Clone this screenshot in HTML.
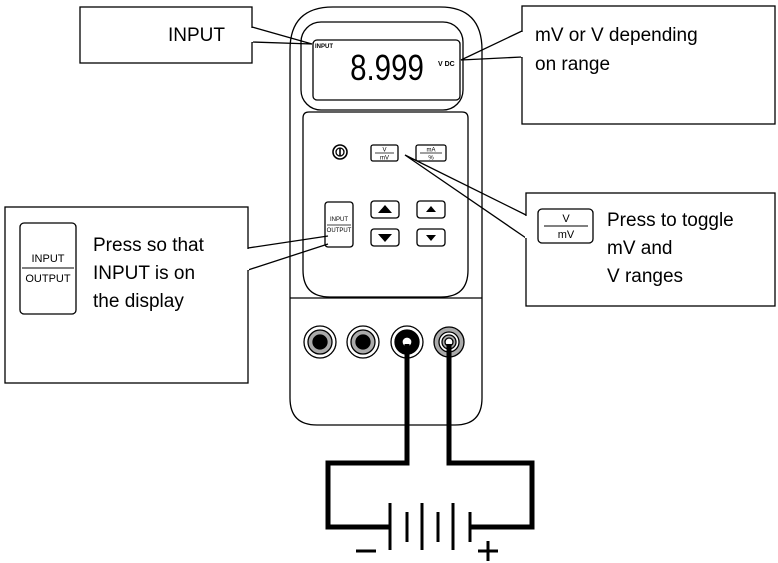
<!DOCTYPE html>
<html><head><meta charset="utf-8"><style>
html,body{margin:0;padding:0;background:#fff;}
svg{display:block;font-family:"Liberation Sans",Arial,sans-serif;}
</style></head><body>
<svg width="778" height="563" viewBox="0 0 778 563" xmlns="http://www.w3.org/2000/svg">
<g fill="none" stroke="#000" stroke-width="1.3">
<!-- meter outer -->
<path d="M290,398 L290,50 Q290,7 333,7 L440,7 Q482,7 482,50 L482,398 Q482,425 455,425 L317,425 Q290,425 290,398 Z" fill="#fff"/>
<!-- display bezel -->
<rect x="301" y="22" width="162" height="88" rx="20" fill="#fff"/>
<rect x="313" y="40" width="147" height="60" rx="4" fill="#fff"/>
<!-- keypad panel -->
<path d="M303,118 Q303,112 309,112 L462,112 Q468,112 468,118 L468,270 Q468,297 441,297 L330,297 Q303,297 303,270 Z" fill="#fff"/>
<line x1="290" y1="298" x2="482" y2="298"/>
<!-- buttons -->
<circle cx="340" cy="152" r="7" stroke-width="1.6"/>
<circle cx="340" cy="152" r="4" stroke-width="1.3"/>
<line x1="340" y1="148" x2="340" y2="156" stroke-width="1.6"/>
<rect x="371" y="145" width="27" height="16" rx="2"/>
<line x1="375" y1="153" x2="394" y2="153" stroke-width="0.8"/>
<rect x="416" y="145" width="30" height="16" rx="2"/>
<line x1="420" y1="153" x2="442" y2="153" stroke-width="0.8"/>
<rect x="325" y="202" width="28" height="45" rx="3"/>
<line x1="327" y1="225" x2="351" y2="225" stroke-width="0.8"/>
<rect x="371" y="201" width="28" height="17" rx="3"/>
<rect x="371" y="229" width="28" height="17" rx="3"/>
<rect x="417" y="201" width="28" height="17" rx="3"/>
<rect x="417" y="229" width="28" height="17" rx="3"/>
</g>
<g fill="#000">
<polygon points="385,205 378,213 392,213"/>
<polygon points="378,234 392,234 385,242"/>
<polygon points="431,206 426,212 436,212"/>
<polygon points="426,235 436,235 431,241"/>
</g>
<g font-size="6" text-anchor="middle">
<text x="384.5" y="151.5">V</text><text x="384.5" y="159.5">mV</text>
<text x="431" y="151.5">mA</text><text x="431" y="159.5">%</text>
<text x="339" y="221">INPUT</text><text x="339" y="232">OUTPUT</text>
</g>
<!-- display text -->
<text x="315" y="48" font-size="6" font-weight="bold">INPUT</text>
<text x="387" y="80" font-size="36" text-anchor="middle" transform="translate(387,0) scale(0.82,1) translate(-387,0)">8.999</text>
<text x="438" y="66" font-size="7" font-weight="bold">V DC</text>
<!-- jacks -->
<g stroke="#000" stroke-width="1.3">
<circle cx="320" cy="342" r="16" fill="#fff"/><circle cx="320" cy="342" r="12" fill="#aaa"/><circle cx="320" cy="342" r="7" fill="#000"/>
<circle cx="363" cy="342" r="16" fill="#fff"/><circle cx="363" cy="342" r="12" fill="#aaa"/><circle cx="363" cy="342" r="7" fill="#000"/>
<circle cx="407" cy="342" r="16" fill="#fff"/><circle cx="407" cy="342" r="12" fill="#000"/><circle cx="407" cy="342" r="5" fill="#fff"/>
<circle cx="449" cy="342" r="15" fill="#aaa"/><circle cx="449" cy="342" r="10" fill="#fff"/><circle cx="449" cy="342" r="7" fill="#aaa"/><circle cx="449" cy="342" r="4" fill="#fff"/>
</g>
<!-- wires -->
<g fill="none" stroke="#000" stroke-width="5" stroke-linejoin="miter">
<path d="M407,344 L407,463 L328,463 L328,527 L390,527"/>
<path d="M449,344 L449,463 L532,463 L532,527 L470,527"/>
</g>
<g stroke="#000" stroke-width="3">
<line x1="390" y1="503" x2="390" y2="550"/>
<line x1="407" y1="512" x2="407" y2="542"/>
<line x1="422" y1="503" x2="422" y2="550"/>
<line x1="438" y1="512" x2="438" y2="542"/>
<line x1="453" y1="503" x2="453" y2="550"/>
<line x1="470" y1="512" x2="470" y2="542"/>
<line x1="356" y1="551" x2="376" y2="551"/>
<line x1="478" y1="551" x2="498" y2="551"/>
<line x1="488" y1="541" x2="488" y2="561"/>
</g>
<!-- callouts -->
<g fill="#fff" stroke="#000" stroke-width="1.3">
<rect x="80" y="7" width="172" height="56"/>
<rect x="522" y="6" width="253" height="118"/>
<rect x="5" y="207" width="243" height="176"/>
<rect x="526" y="193" width="249" height="113"/>
</g>
<g fill="none" stroke="#000" stroke-width="1.3">
<polyline points="252,27 312,44 252,42"/>
<polyline points="522,31 461,60 522,57"/>
<polyline points="248,248 328,236"/>
<polyline points="248,270 328,244"/>
<polyline points="526,215 405,155 526,238"/>
<rect x="20" y="223" width="56" height="91" rx="4"/>
<line x1="22" y1="268" x2="74" y2="268" stroke-width="0.9"/>
<rect x="538" y="209" width="55" height="34" rx="4"/>
<line x1="544" y1="226" x2="588" y2="226" stroke-width="0.9"/>
</g>
<g fill="#fff">
<rect x="251" y="28" width="2" height="14"/>
<rect x="521" y="32" width="2" height="25"/>
<rect x="247" y="249" width="2" height="21"/>
<rect x="525" y="216" width="2" height="22"/>
</g>
<g font-size="19" fill="#000">
<text x="168" y="41">INPUT</text>
<text x="535" y="41">mV or V depending</text>
<text x="535" y="70">on range</text>
<text x="93" y="251">Press so that</text>
<text x="93" y="279">INPUT is on</text>
<text x="93" y="307">the display</text>
<text x="607" y="226">Press to toggle</text>
<text x="607" y="254">mV and</text>
<text x="607" y="282">V ranges</text>
</g>
<g font-size="11" text-anchor="middle">
<text x="48" y="262">INPUT</text><text x="48" y="282">OUTPUT</text>
<text x="566" y="222">V</text><text x="566" y="238">mV</text>
</g>
</svg>
</body></html>
